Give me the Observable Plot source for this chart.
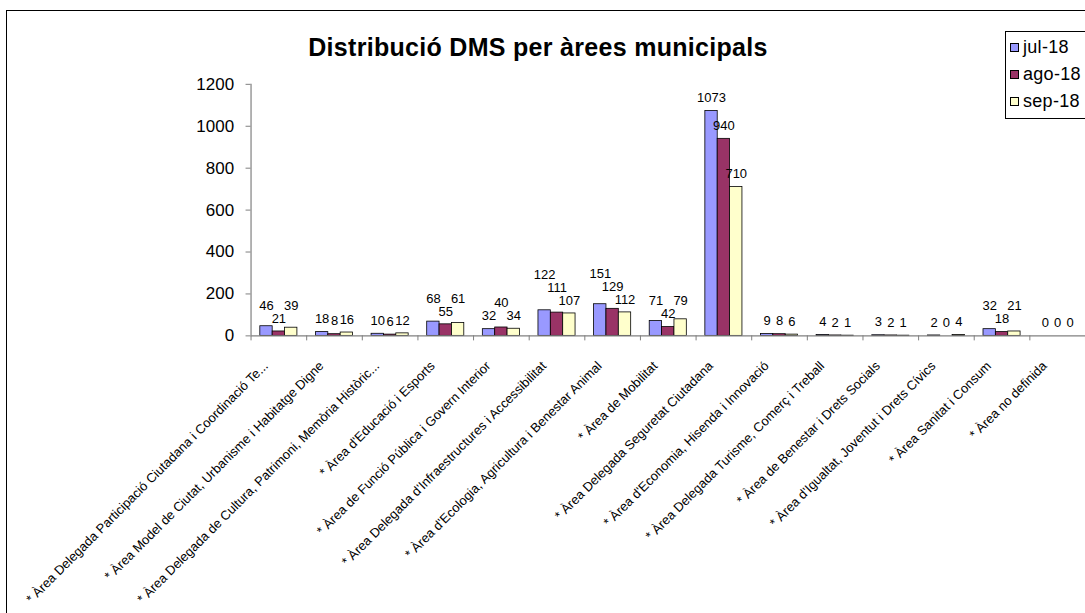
<!DOCTYPE html>
<html>
<head>
<meta charset="utf-8">
<script src="https://cdn.jsdelivr.net/npm/d3@7"></script>
<script src="https://cdn.jsdelivr.net/npm/@observablehq/plot@0.6"></script>
<style>
  html, body { margin: 0; padding: 0; background: #fff; overflow: hidden; }
  #chart { position: relative; width: 1085px; height: 613px; overflow: hidden;
           font-family: "Liberation Sans", Arial, sans-serif; }
  #frame { position: absolute; left: 6px; top: 10px; width: 1200px; height: 800px;
           border-left: 1.5px solid #000; border-top: 1.5px solid #000; }
  #title { position: absolute; left: 0; top: 35px; width: 1076px; text-align: center;
           font-weight: bold; font-size: 25px; letter-spacing: 0.3px; line-height: 1; color: #000; }
  #legend { position: absolute; left: 1005px; top: 31px; width: 110px; background: #fff;
            border: 1px solid #000; padding: 2px 0 3px 4px; font-size: 18px; letter-spacing: 0.3px; }
  .item { height: 27px; display: flex; align-items: center; }
  .swatch { width: 7px; height: 7px; border: 1px solid #000; margin-right: 4px; }
  svg { position: absolute; left: 0; top: 0; }
</style>
</head>
<body>
<div id="chart">
  <div id="frame"></div>
  <div id="plot"></div>
  <div id="title">Distribució DMS per àrees municipals</div>
  <div id="legend"></div>
</div>
<script>
// Municipal areas (category axis)
const categories = [
  "* Àrea Delegada Participació Ciutadana i Coordinació Te...",
  "* Àrea Model de Ciutat, Urbanisme i Habitatge Digne",
  "* Àrea Delegada de Cultura, Patrimoni, Memòria Històric...",
  "* Àrea d'Educació i Esports",
  "* Àrea de Funció Pública i Govern Interior",
  "* Àrea Delegada d'Infraestructures i Accessibilitat",
  "* Àrea d'Ecologia, Agricultura i Benestar Animal",
  "* Àrea de Mobilitat",
  "* Àrea Delegada Seguretat Ciutadana",
  "* Àrea d'Economia, Hisenda i Innovació",
  "* Àrea Delegada Turisme, Comerç i Treball",
  "* Àrea de Benestar i Drets Socials",
  "* Àrea d'Igualtat, Joventut i Drets Cívics",
  "* Àrea Sanitat i Consum",
  "* Àrea no definida"
];

// Monthly counts per area
const seriesNames = ["jul-18", "ago-18", "sep-18"];
const jul18 = [46, 18, 10, 68, 32, 122, 151, 71, 1073, 9, 4, 3, 2, 32, 0];
const ago18 = [21, 8, 6, 55, 40, 111, 129, 42, 940, 8, 2, 2, 0, 18, 0];
const sep18 = [39, 16, 12, 61, 34, 107, 112, 79, 710, 6, 1, 1, 4, 21, 0];
const seriesColors = ["#9999ff", "#993366", "#ffffcc"];
const yTicks = [0, 200, 400, 600, 800, 1000, 1200];

// Layout
const W = 1087, H = 613;
const mL = 251, mR = 0, mT = 84, mB = 277;
const axisGray = "#808080";
const yMax = 1200;
const nCat = categories.length;
const groupInset = 1 / 6;              // gap at each side of a bar group
const barW = (1 - 2 * groupInset) / 3; // width of one bar, in category units

const seriesValues = [jul18, ago18, sep18];
const bars = categories.flatMap((cat, i) =>
  seriesValues.map((vals, j) => ({cat, i, j, series: seriesNames[j], value: vals[i]}))
);
const barX1 = d => d.i + groupInset + d.j * barW;
const barX2 = d => barX1(d) + barW;
const barXc = d => barX1(d) + barW / 2;

// Value labels: sit just above each bar; when labels in a group collide,
// the later one (larger value) is lifted above the one it hits.
const labelSize = 13;
const ky = (H - mT - mB) / yMax;
const kx = (W - mL - mR) / nCat;
const charW = labelSize * 0.556;
const labels = [];
for (let i = 0; i < nCat; i++) {
  const group = bars.filter(b => b.i === i).sort((a, b) => a.value - b.value || a.j - b.j);
  const placed = [];
  for (const b of group) {
    const cx = barXc(b) * kx;
    const w = String(b.value).length * charW;
    let up = b.value * ky + labelSize;
    let moved = true;
    while (moved) {
      moved = false;
      for (const p of placed) {
        if (Math.abs(p.cx - cx) < (p.w + w) / 2 && Math.abs(p.up - up) < labelSize - 0.5) {
          up = p.up + labelSize;
          moved = true;
        }
      }
    }
    placed.push({cx, w, up});
    labels.push({...b, ly: up / ky});
  }
}

const chart = Plot.plot({
  width: W,
  height: H,
  marginLeft: mL,
  marginRight: mR,
  marginTop: mT,
  marginBottom: mB,
  x: {domain: [0, nCat], label: null},
  y: {domain: [0, yMax], label: null},
  color: {domain: seriesNames, range: seriesColors},
  style: {fontFamily: "'Liberation Sans', Arial, sans-serif", background: "transparent", overflow: "visible", color: "#000"},
  marks: [
    Plot.rect(bars, {x1: barX1, x2: barX2, y1: 0, y2: "value", fill: "series", stroke: "#000", strokeWidth: 0.8}),
    Plot.ruleX([0], {stroke: axisGray, strokeWidth: 1.2}),
    Plot.ruleY([0], {stroke: axisGray, strokeWidth: 1.2}),
    Plot.axisY({ticks: yTicks, tickSize: 5, tickPadding: 12, fontSize: 17, stroke: axisGray, fill: "#000", label: null, tickFormat: d => String(d)}),
    Plot.axisX({ticks: d3.range(nCat + 1), tickSize: 5, stroke: axisGray, label: null, tickFormat: () => ""}),
    Plot.text(labels, {x: barXc, y: "ly", text: d => String(d.value), fontSize: labelSize, fill: "#000"}),
    Plot.text(categories, {
      x: (d, i) => i + 0.5, y: () => 0, text: d => d,
      rotate: -45, textAnchor: "end", lineAnchor: "middle",
      dx: -13, dy: 28, fontSize: 13, fill: "#000"
    })
  ]
});
document.getElementById("plot").appendChild(chart);

// Legend
const legend = document.getElementById("legend");
seriesNames.forEach((name, j) => {
  const row = document.createElement("div");
  row.className = "item";
  const sw = document.createElement("span");
  sw.className = "swatch";
  sw.style.background = seriesColors[j];
  const label = document.createElement("span");
  label.textContent = name;
  row.appendChild(sw);
  row.appendChild(label);
  legend.appendChild(row);
});
</script>
</body>
</html>
